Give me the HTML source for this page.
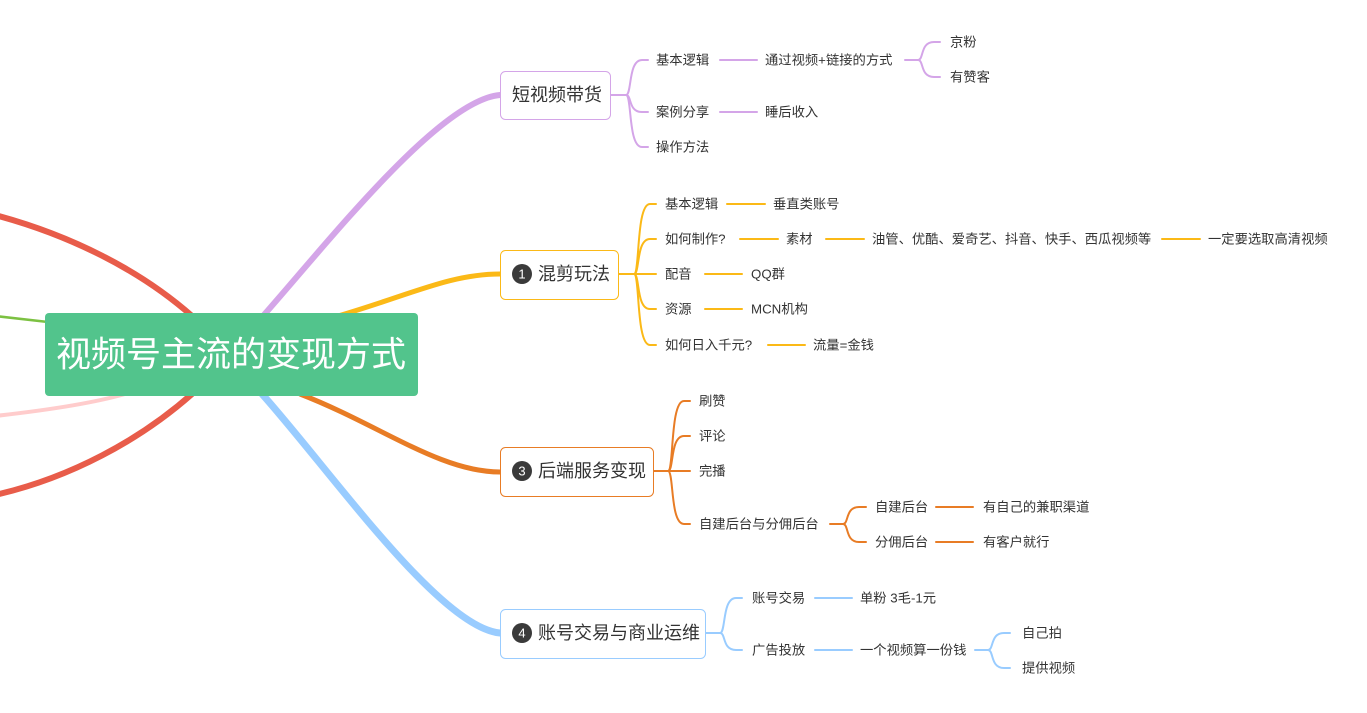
<!DOCTYPE html>
<html><head><meta charset="utf-8"><style>
html,body{margin:0;padding:0;background:#fff;width:1367px;height:713px;overflow:hidden}
svg text{font-family:"Liberation Sans","Noto Sans CJK SC",sans-serif;fill:#333;dominant-baseline:central}
.t{font-size:13.3px}
.b{font-size:18px}
</style></head><body>
<svg width="1367" height="713" viewBox="0 0 1367 713" xmlns="http://www.w3.org/2000/svg">
<g fill="none" stroke-linecap="round">
<path d="M-5 215 C70 235 140 270 192 316" stroke="#e85c4a" stroke-width="6"/>
<path d="M-5 495 C70 478 140 440 192 394" stroke="#e85c4a" stroke-width="6"/>
<path d="M-5 316 L48 322" stroke="#7cc142" stroke-width="2.5"/>
<path d="M-5 416 C40 411 90 404 125 394" stroke="#ffcccc" stroke-width="4"/>
<path d="M263 316 C330 240 440 100 500 95" stroke="#d4a5e8" stroke-width="6"/>
<path d="M338 316 C410 295 450 274 500 274" stroke="#fbb917" stroke-width="5"/>
<path d="M300 394 C380 425 440 472 500 472" stroke="#e87c25" stroke-width="5"/>
<path d="M262 394 C330 470 440 628 500 633" stroke="#99ccff" stroke-width="7"/>

<g stroke="#d4a5e8" stroke-width="2">
<path d="M610 95 H626 C632 95 628 60 642 60 H648"/>
<path d="M626 95 C632 95 628 112 642 112 H648"/>
<path d="M626 95 C632 95 628 147 642 147 H648"/>
<path d="M720 60 H757"/><path d="M720 112 H757"/>
<path d="M905 60 H918 C924 60 920 42 934 42 H940"/>
<path d="M918 60 C924 60 920 77 934 77 H940"/>
</g>
<g stroke="#fbb917" stroke-width="2">
<path d="M618 274 H634 C640 274 636 204 650 204 H656"/>
<path d="M634 274 C640 274 636 239 650 239 H656"/>
<path d="M634 274 H656"/>
<path d="M634 274 C640 274 636 309 650 309 H656"/>
<path d="M634 274 C640 274 636 345 650 345 H656"/>
<path d="M727 204 H765"/><path d="M740 239 H778"/><path d="M826 239 H864"/><path d="M1162 239 H1200"/>
<path d="M705 274 H742"/><path d="M705 309 H742"/><path d="M768 345 H805"/>
</g>
<g stroke="#e87c25" stroke-width="2">
<path d="M653 471 H668 C674 471 670 401 684 401 H690"/>
<path d="M668 471 C674 471 670 436 684 436 H690"/>
<path d="M668 471 H690"/>
<path d="M668 471 C674 471 670 524 684 524 H690"/>
<path d="M830 524 H843 C849 524 845 507 859 507 H866"/>
<path d="M843 524 C849 524 845 542 859 542 H866"/>
<path d="M936 507 H973"/><path d="M936 542 H973"/>
</g>
<g stroke="#99ccff" stroke-width="2">
<path d="M705 633 H720 C726 633 722 598 736 598 H742"/>
<path d="M720 633 C726 633 722 650 736 650 H742"/>
<path d="M815 598 H852"/><path d="M815 650 H852"/>
<path d="M975 650 H988 C994 650 990 633 1004 633 H1010"/>
<path d="M988 650 C994 650 990 668 1004 668 H1010"/>
</g>
</g>

<rect x="45" y="313" width="373" height="83" rx="4" fill="#52c48c"/>
<text x="231" y="355" text-anchor="middle" style="font-size:35px;fill:#fff">视频号主流的变现方式</text>

<rect x="500.5" y="71.5" width="110" height="48" rx="5" fill="#fff" stroke="#d4a5e8"/>
<text x="512" y="95" class="b">短视频带货</text>
<rect x="500.5" y="250.5" width="118" height="49" rx="5" fill="#fff" stroke="#fbb917"/>
<circle cx="522" cy="274" r="10" fill="#3a3a3a"/><text x="522" y="274" text-anchor="middle" style="font-size:13px;fill:#fff">1</text>
<text x="538" y="274" class="b">混剪玩法</text>
<rect x="500.5" y="447.5" width="153" height="49" rx="5" fill="#fff" stroke="#e87c25"/>
<circle cx="522" cy="471" r="10" fill="#3a3a3a"/><text x="522" y="471" text-anchor="middle" style="font-size:13px;fill:#fff">3</text>
<text x="538" y="471" class="b">后端服务变现</text>
<rect x="500.5" y="609.5" width="205" height="49" rx="5" fill="#fff" stroke="#99ccff"/>
<circle cx="522" cy="633" r="10" fill="#3a3a3a"/><text x="522" y="633" text-anchor="middle" style="font-size:13px;fill:#fff">4</text>
<text x="538" y="633" class="b">账号交易与商业运维</text>

<text x="656" y="60" class="t">基本逻辑</text>
<text x="765" y="60" class="t">通过视频+链接的方式</text>
<text x="950" y="42" class="t">京粉</text>
<text x="950" y="77" class="t">有赞客</text>
<text x="656" y="112" class="t">案例分享</text>
<text x="765" y="112" class="t">睡后收入</text>
<text x="656" y="147" class="t">操作方法</text>
<text x="665" y="204" class="t">基本逻辑</text>
<text x="773" y="204" class="t">垂直类账号</text>
<text x="665" y="239" class="t">如何制作?</text>
<text x="786" y="239" class="t">素材</text>
<text x="872" y="239" class="t">油管、优酷、爱奇艺、抖音、快手、西瓜视频等</text>
<text x="1208" y="239" class="t">一定要选取高清视频</text>
<text x="665" y="274" class="t">配音</text>
<text x="751" y="274" class="t">QQ群</text>
<text x="665" y="309" class="t">资源</text>
<text x="751" y="309" class="t">MCN机构</text>
<text x="665" y="345" class="t">如何日入千元?</text>
<text x="813" y="345" class="t">流量=金钱</text>
<text x="699" y="401" class="t">刷赞</text>
<text x="699" y="436" class="t">评论</text>
<text x="699" y="471" class="t">完播</text>
<text x="699" y="524" class="t">自建后台与分佣后台</text>
<text x="875" y="507" class="t">自建后台</text>
<text x="983" y="507" class="t">有自己的兼职渠道</text>
<text x="875" y="542" class="t">分佣后台</text>
<text x="983" y="542" class="t">有客户就行</text>
<text x="752" y="598" class="t">账号交易</text>
<text x="860" y="598" class="t">单粉 3毛-1元</text>
<text x="752" y="650" class="t">广告投放</text>
<text x="860" y="650" class="t">一个视频算一份钱</text>
<text x="1022" y="633" class="t">自己拍</text>
<text x="1022" y="668" class="t">提供视频</text>
</svg>
</body></html>
